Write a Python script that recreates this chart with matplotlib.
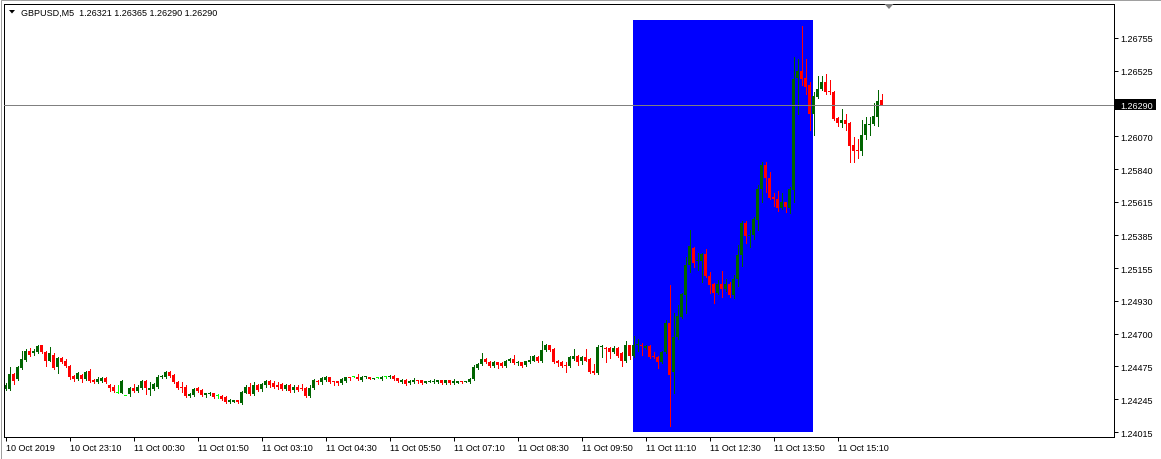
import matplotlib
matplotlib.use('Agg')
import matplotlib.pyplot as plt
from matplotlib.patches import Rectangle, Polygon

plt.rcParams['font.family'] = ['Liberation Sans', 'DejaVu Sans']

symbol = 'GBPUSD,M5'
last_ohlc = [1.26321, 1.26365, 1.26290, 1.26290]
bid = 1.26290

opens = [
    1.24320, 1.24320, 1.24424, 1.24383, 1.24459, 1.24521, 1.24577, 1.24563, 1.24570, 1.24619,
    1.24570, 1.24514, 1.24556, 1.24466, 1.24535, 1.24508, 1.24473, 1.24410, 1.24383, 1.24417,
    1.24383, 1.24445, 1.24376, 1.24362, 1.24369, 1.24390, 1.24341, 1.24334, 1.24292, 1.24292,
    1.24265, 1.24279, 1.24327, 1.24306, 1.24327, 1.24369, 1.24313, 1.24320, 1.24334, 1.24397,
    1.24397, 1.24438, 1.24417, 1.24362, 1.24334, 1.24334, 1.24265, 1.24272, 1.24327, 1.24313,
    1.24272, 1.24279, 1.24286, 1.24265, 1.24265, 1.24258, 1.24227, 1.24230, 1.24237, 1.24223,
    1.24292, 1.24334, 1.24279, 1.24341, 1.24320, 1.24341, 1.24369, 1.24355, 1.24341, 1.24348,
    1.24320, 1.24341, 1.24313, 1.24334, 1.24320, 1.24327, 1.24265, 1.24327, 1.24369, 1.24362,
    1.24376, 1.24397, 1.24369, 1.24369, 1.24355, 1.24369, 1.24397, 1.24397, 1.24397, 1.24376,
    1.24397, 1.24397, 1.24386, 1.24390, 1.24383, 1.24403, 1.24397, 1.24410, 1.24390, 1.24362,
    1.24376, 1.24355, 1.24362, 1.24376, 1.24376, 1.24359, 1.24366, 1.24362, 1.24362, 1.24376,
    1.24355, 1.24376, 1.24355, 1.24359, 1.24366, 1.24367, 1.24362, 1.24383, 1.24459, 1.24487,
    1.24528, 1.24501, 1.24473, 1.24501, 1.24494, 1.24473, 1.24508, 1.24528, 1.24494, 1.24501,
    1.24480, 1.24501, 1.24514, 1.24542, 1.24508, 1.24584, 1.24619, 1.24591, 1.24508, 1.24501,
    1.24480, 1.24473, 1.24528, 1.24549, 1.24508, 1.24542, 1.24528, 1.24445, 1.24431, 1.24605,
    1.24598, 1.24598, 1.24570, 1.24598, 1.24563, 1.24508, 1.24619, 1.24549, 1.24619, 1.24625,
    1.24598, 1.24612, 1.24542, 1.24542, 1.24501, 1.24570, 1.24778, 1.24438, 1.24674, 1.24813,
    1.24972, 1.25180, 1.25298, 1.25205, 1.25208, 1.25250, 1.25104, 1.25042, 1.24986, 1.25042,
    1.25007, 1.25042, 1.24972, 1.25083, 1.25243, 1.25465, 1.25378, 1.25382, 1.25486, 1.25701,
    1.25874, 1.25777, 1.25652, 1.25638, 1.25569, 1.25611, 1.25569, 1.25694, 1.26471, 1.26526,
    1.26471, 1.26429, 1.26221, 1.26339, 1.26401, 1.26443, 1.26387, 1.26380, 1.26200, 1.26165,
    1.26186, 1.26165, 1.26006, 1.25978, 1.25971, 1.26082, 1.26145, 1.26152, 1.26207, 1.26321,
]
highs = [
    1.24355, 1.24466, 1.24431, 1.24473, 1.24577, 1.24591, 1.24598, 1.24591, 1.24619, 1.24625,
    1.24577, 1.24605, 1.24563, 1.24542, 1.24542, 1.24528, 1.24480, 1.24417, 1.24438, 1.24424,
    1.24445, 1.24452, 1.24383, 1.24403, 1.24397, 1.24403, 1.24348, 1.24341, 1.24341, 1.24376,
    1.24265, 1.24334, 1.24348, 1.24341, 1.24376, 1.24376, 1.24362, 1.24355, 1.24417, 1.24417,
    1.24445, 1.24445, 1.24424, 1.24369, 1.24362, 1.24341, 1.24286, 1.24327, 1.24334, 1.24320,
    1.24292, 1.24299, 1.24292, 1.24279, 1.24272, 1.24265, 1.24244, 1.24241, 1.24241, 1.24306,
    1.24341, 1.24355, 1.24362, 1.24348, 1.24355, 1.24376, 1.24376, 1.24369, 1.24362, 1.24355,
    1.24348, 1.24348, 1.24341, 1.24341, 1.24348, 1.24334, 1.24341, 1.24383, 1.24376, 1.24397,
    1.24410, 1.24403, 1.24373, 1.24373, 1.24390, 1.24403, 1.24400, 1.24410, 1.24424, 1.24410,
    1.24410, 1.24403, 1.24393, 1.24403, 1.24407, 1.24403, 1.24414, 1.24414, 1.24393, 1.24383,
    1.24383, 1.24376, 1.24390, 1.24379, 1.24379, 1.24373, 1.24376, 1.24383, 1.24379, 1.24379,
    1.24379, 1.24379, 1.24383, 1.24373, 1.24369, 1.24369, 1.24392, 1.24480, 1.24494, 1.24563,
    1.24535, 1.24508, 1.24508, 1.24504, 1.24501, 1.24521, 1.24535, 1.24556, 1.24514, 1.24504,
    1.24514, 1.24549, 1.24556, 1.24549, 1.24653, 1.24632, 1.24625, 1.24598, 1.24521, 1.24508,
    1.24501, 1.24549, 1.24591, 1.24556, 1.24549, 1.24591, 1.24535, 1.24487, 1.24621, 1.24619,
    1.24605, 1.24605, 1.24612, 1.24605, 1.24570, 1.24653, 1.24625, 1.24681, 1.24667, 1.24639,
    1.24619, 1.24619, 1.24570, 1.24549, 1.24577, 1.24792, 1.25035, 1.24847, 1.24896, 1.24986,
    1.25229, 1.25423, 1.25305, 1.25257, 1.25257, 1.25291, 1.25125, 1.25049, 1.25076, 1.25132,
    1.25083, 1.25062, 1.25111, 1.25319, 1.25479, 1.25479, 1.25423, 1.25513, 1.25735, 1.25888,
    1.25888, 1.25819, 1.25673, 1.25687, 1.25673, 1.25617, 1.25721, 1.26623, 1.26609, 1.26838,
    1.26609, 1.26443, 1.26374, 1.26491, 1.26485, 1.26505, 1.26457, 1.26387, 1.26207, 1.26256,
    1.26221, 1.26172, 1.26068, 1.26048, 1.26186, 1.26207, 1.26207, 1.26304, 1.26394, 1.26365,
]
lows = [
    1.24313, 1.24313, 1.24348, 1.24376, 1.24452, 1.24514, 1.24549, 1.24556, 1.24563, 1.24563,
    1.24473, 1.24508, 1.24452, 1.24431, 1.24494, 1.24466, 1.24383, 1.24369, 1.24376, 1.24362,
    1.24376, 1.24362, 1.24355, 1.24355, 1.24362, 1.24355, 1.24306, 1.24299, 1.24292, 1.24286,
    1.24265, 1.24265, 1.24299, 1.24299, 1.24320, 1.24279, 1.24272, 1.24313, 1.24327, 1.24390,
    1.24390, 1.24403, 1.24355, 1.24320, 1.24299, 1.24258, 1.24258, 1.24265, 1.24299, 1.24265,
    1.24258, 1.24272, 1.24251, 1.24251, 1.24237, 1.24223, 1.24223, 1.24227, 1.24220, 1.24216,
    1.24286, 1.24272, 1.24272, 1.24306, 1.24306, 1.24334, 1.24334, 1.24327, 1.24320, 1.24313,
    1.24313, 1.24299, 1.24299, 1.24306, 1.24313, 1.24258, 1.24258, 1.24320, 1.24348, 1.24348,
    1.24369, 1.24355, 1.24341, 1.24341, 1.24348, 1.24362, 1.24376, 1.24397, 1.24376, 1.24369,
    1.24390, 1.24383, 1.24383, 1.24390, 1.24376, 1.24390, 1.24393, 1.24379, 1.24362, 1.24355,
    1.24345, 1.24348, 1.24355, 1.24359, 1.24352, 1.24355, 1.24362, 1.24359, 1.24359, 1.24352,
    1.24352, 1.24352, 1.24352, 1.24355, 1.24355, 1.24366, 1.24359, 1.24376, 1.24452, 1.24480,
    1.24494, 1.24466, 1.24466, 1.24459, 1.24466, 1.24466, 1.24501, 1.24487, 1.24480, 1.24470,
    1.24476, 1.24494, 1.24508, 1.24501, 1.24501, 1.24577, 1.24577, 1.24494, 1.24473, 1.24466,
    1.24438, 1.24466, 1.24521, 1.24480, 1.24487, 1.24508, 1.24431, 1.24421, 1.24424, 1.24542,
    1.24501, 1.24535, 1.24563, 1.24542, 1.24473, 1.24501, 1.24528, 1.24542, 1.24577, 1.24556,
    1.24591, 1.24535, 1.24535, 1.24459, 1.24494, 1.24563, 1.24057, 1.24292, 1.24667, 1.24806,
    1.24847, 1.25125, 1.25160, 1.25139, 1.25062, 1.25097, 1.24986, 1.24910, 1.24979, 1.24952,
    1.25000, 1.24958, 1.24945, 1.25028, 1.25167, 1.25333, 1.25305, 1.25354, 1.25423, 1.25611,
    1.25680, 1.25638, 1.25583, 1.25555, 1.25562, 1.25548, 1.25541, 1.25611, 1.26221, 1.26429,
    1.26360, 1.26110, 1.26082, 1.26332, 1.26394, 1.26360, 1.26360, 1.26186, 1.26138, 1.26131,
    1.26110, 1.25888, 1.25888, 1.25916, 1.25937, 1.26048, 1.26082, 1.26145, 1.26138, 1.26290,
]
closes = [
    1.24341, 1.24424, 1.24369, 1.24466, 1.24528, 1.24577, 1.24556, 1.24577, 1.24612, 1.24570,
    1.24514, 1.24563, 1.24459, 1.24535, 1.24501, 1.24473, 1.24403, 1.24383, 1.24431, 1.24383,
    1.24438, 1.24369, 1.24366, 1.24383, 1.24390, 1.24362, 1.24327, 1.24306, 1.24292, 1.24369,
    1.24265, 1.24327, 1.24306, 1.24334, 1.24369, 1.24327, 1.24327, 1.24348, 1.24397, 1.24410,
    1.24438, 1.24410, 1.24362, 1.24327, 1.24327, 1.24265, 1.24279, 1.24320, 1.24306, 1.24272,
    1.24286, 1.24286, 1.24258, 1.24265, 1.24244, 1.24230, 1.24237, 1.24237, 1.24227, 1.24299,
    1.24334, 1.24279, 1.24341, 1.24313, 1.24348, 1.24369, 1.24341, 1.24334, 1.24334, 1.24320,
    1.24341, 1.24306, 1.24334, 1.24313, 1.24315, 1.24265, 1.24327, 1.24376, 1.24362, 1.24390,
    1.24397, 1.24362, 1.24362, 1.24359, 1.24383, 1.24397, 1.24390, 1.24397, 1.24383, 1.24403,
    1.24403, 1.24386, 1.24390, 1.24390, 1.24403, 1.24403, 1.24410, 1.24383, 1.24369, 1.24376,
    1.24348, 1.24369, 1.24376, 1.24369, 1.24355, 1.24369, 1.24373, 1.24373, 1.24376, 1.24355,
    1.24376, 1.24355, 1.24369, 1.24369, 1.24362, 1.24369, 1.24383, 1.24466, 1.24487, 1.24528,
    1.24501, 1.24473, 1.24501, 1.24480, 1.24473, 1.24514, 1.24528, 1.24494, 1.24499, 1.24473,
    1.24508, 1.24521, 1.24549, 1.24508, 1.24584, 1.24619, 1.24584, 1.24501, 1.24494, 1.24473,
    1.24473, 1.24542, 1.24549, 1.24501, 1.24542, 1.24514, 1.24438, 1.24431, 1.24605, 1.24612,
    1.24591, 1.24570, 1.24598, 1.24549, 1.24508, 1.24619, 1.24549, 1.24619, 1.24632, 1.24612,
    1.24612, 1.24542, 1.24537, 1.24501, 1.24570, 1.24778, 1.24417, 1.24674, 1.24820, 1.24979,
    1.25180, 1.25312, 1.25194, 1.25208, 1.25250, 1.25104, 1.25035, 1.24986, 1.25042, 1.25007,
    1.25042, 1.24972, 1.25083, 1.25243, 1.25465, 1.25375, 1.25382, 1.25493, 1.25701, 1.25874,
    1.25777, 1.25645, 1.25638, 1.25569, 1.25611, 1.25576, 1.25701, 1.26464, 1.26526, 1.26464,
    1.26415, 1.26221, 1.26346, 1.26401, 1.26443, 1.26380, 1.26374, 1.26193, 1.26165, 1.26186,
    1.26158, 1.25999, 1.25971, 1.25971, 1.26082, 1.26152, 1.26158, 1.26214, 1.26318, 1.26290,
]

time_ticks = [0, 16, 32, 48, 64, 80, 96, 112, 128, 144, 160, 176, 192, 208]
time_labels = ['10 Oct 2019', '10 Oct 23:10', '11 Oct 00:30', '11 Oct 01:50',
               '11 Oct 03:10', '11 Oct 04:30', '11 Oct 05:50', '11 Oct 07:10',
               '11 Oct 08:30', '11 Oct 09:50', '11 Oct 11:10', '11 Oct 12:30',
               '11 Oct 13:50', '11 Oct 15:10']
price_ticks = [1.26755, 1.26525, 1.26290, 1.26070, 1.25840, 1.25615, 1.25385,
               1.25155, 1.24930, 1.24700, 1.24475, 1.24245, 1.24015]

# rectangle object drawn on the chart (bar index range, price range)
rect_bars = (157, 202)
rect_prices = (1.240185, 1.268765)

W, H = 1161, 460
bull, bear, doji = '#006400', '#ff0000', '#00ff00'

fig = plt.figure(figsize=(W / 100, H / 100), dpi=100)
ax = fig.add_axes([3.5 / W, 1 - 437.5 / H, 1110 / W, 433 / H])
ax.set_xlim(-0.5, 277)
ax.set_ylim(1.239872, 1.269910)
px = (1.269910 - 1.239872) / 433

ax.add_patch(Rectangle((rect_bars[0] - 0.125, rect_prices[0]), rect_bars[1] - rect_bars[0],
                       rect_prices[1] - rect_prices[0], facecolor='#0000ff',
                       edgecolor='none', antialiased=False, zorder=1))

xs, cols, bots, hts = [], [], [], []
for i, (o, h, l, c) in enumerate(zip(opens, highs, lows, closes)):
    col = doji if o == c else (bull if c > o else bear)
    xs.append(i)
    cols.append(col)
    bots.append(min(o, c))
    hts.append(max(abs(c - o), px))
    if h > l:
        ax.vlines(i, l, h, colors=col, lw=0.72, antialiased=False, zorder=2)
ax.bar(xs, hts, 0.77, bots, color=cols, linewidth=0, antialiased=False, zorder=2)

ax.axhline(bid, color='#808080', lw=0.72, antialiased=False, zorder=3)

for s in ax.spines.values():
    s.set_linewidth(0.72)
    s.set_color('black')

ax.yaxis.tick_right()
ax.set_yticks(price_ticks)
ax.set_yticklabels([f'{v:.5f}' for v in price_ticks])
ax.set_xticks(time_ticks)
ax.set_xticklabels(time_labels)
ax.tick_params(axis='both', direction='out', length=2.9, width=0.72, labelsize=6.5,
               colors='black')
ax.tick_params(axis='y', pad=2.2)
ax.tick_params(axis='x', pad=1.6)
for lab in ax.get_xticklabels():
    lab.set_ha('left')
for lab, v in zip(ax.get_yticklabels(), price_ticks):
    if v == bid:
        lab.set_color('white')

# bid price box on the price scale
fig.add_artist(Rectangle((1115 / W, 1 - 111 / H), 41 / W, 11 / H, transform=fig.transFigure,
                         facecolor='black', edgecolor='none', zorder=-1))

# header
fig.text(21 / W, 1 - 13.5 / H, symbol + '  ' + ' '.join(f'{v:.5f}' for v in last_ohlc),
         fontsize=6.5, va='center', ha='left')
fig.add_artist(Polygon([(9 / W, 1 - 11 / H), (15 / W, 1 - 11 / H), (12 / W, 1 - 14.5 / H)],
                       closed=True, transform=fig.transFigure, facecolor='black',
                       edgecolor='none'))
# chart shift marker
fig.add_artist(Polygon([(884.5 / W, 1 - 5 / H), (893.5 / W, 1 - 5 / H), (889 / W, 1 - 10 / H)],
                       closed=True, transform=fig.transFigure, facecolor='#808080',
                       edgecolor='none'))
# window border
fig.add_artist(Rectangle((0.5 / W, 0.5 / H), (W - 1) / W, (H - 1) / H, transform=fig.transFigure,
                         facecolor='none', edgecolor='#a0a0a0', lw=0.72))

fig.savefig('out.png', dpi=100)
